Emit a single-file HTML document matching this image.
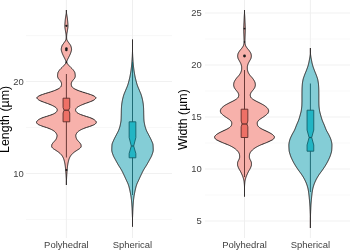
<!DOCTYPE html>
<html><head><meta charset="utf-8"><title>Violin plots</title>
<style>html,body{margin:0;padding:0;background:#fff}svg{display:block;will-change:transform;opacity:0.999}</style></head>
<body>
<svg width="350" height="250" viewBox="0 0 350 250">
<rect width="350" height="250" fill="#fff"/>
<line x1="26" x2="172" y1="35.6" y2="35.6" stroke="#f1f1f1" stroke-width="0.5"/>
<line x1="26" x2="172" y1="127.5" y2="127.5" stroke="#f1f1f1" stroke-width="0.5"/>
<line x1="26" x2="172" y1="219.5" y2="219.5" stroke="#f1f1f1" stroke-width="0.5"/>
<line x1="26" x2="172" y1="81.5" y2="81.5" stroke="#ededed" stroke-width="0.8"/>
<line x1="26" x2="172" y1="173.5" y2="173.5" stroke="#ededed" stroke-width="0.8"/>
<line x1="66.4" x2="66.4" y1="0" y2="238" stroke="#ededed" stroke-width="0.9"/>
<line x1="132.5" x2="132.5" y1="0" y2="238" stroke="#ededed" stroke-width="0.9"/>
<line x1="205" x2="350" y1="39" y2="39" stroke="#f1f1f1" stroke-width="0.5"/>
<line x1="205" x2="350" y1="91" y2="91" stroke="#f1f1f1" stroke-width="0.5"/>
<line x1="205" x2="350" y1="143" y2="143" stroke="#f1f1f1" stroke-width="0.5"/>
<line x1="205" x2="350" y1="195" y2="195" stroke="#f1f1f1" stroke-width="0.5"/>
<line x1="205" x2="350" y1="13" y2="13" stroke="#ededed" stroke-width="0.8"/>
<line x1="205" x2="350" y1="65" y2="65" stroke="#ededed" stroke-width="0.8"/>
<line x1="205" x2="350" y1="117" y2="117" stroke="#ededed" stroke-width="0.8"/>
<line x1="205" x2="350" y1="169" y2="169" stroke="#ededed" stroke-width="0.8"/>
<line x1="205" x2="350" y1="221" y2="221" stroke="#ededed" stroke-width="0.8"/>
<line x1="244.5" x2="244.5" y1="0" y2="238" stroke="#ededed" stroke-width="0.9"/>
<line x1="310.4" x2="310.4" y1="0" y2="238" stroke="#ededed" stroke-width="0.9"/>
<path d="M66.40,10.00 L66.40,10.50 L66.40,11.00 L66.40,11.50 L66.40,12.00 L66.40,12.50 L66.48,13.00 L66.57,13.50 L66.65,14.00 L66.73,14.50 L66.82,15.00 L66.90,15.50 L66.99,16.00 L67.07,16.50 L67.15,17.00 L67.23,17.50 L67.31,18.00 L67.38,18.50 L67.44,19.00 L67.50,19.50 L67.55,20.00 L67.60,20.50 L67.64,21.00 L67.69,21.50 L67.74,22.00 L67.78,22.50 L67.82,23.00 L67.86,23.50 L67.89,24.00 L67.91,24.50 L67.93,25.00 L67.95,25.50 L67.95,26.00 L67.94,26.50 L67.91,27.00 L67.87,27.50 L67.81,28.00 L67.74,28.50 L67.66,29.00 L67.58,29.50 L67.50,30.00 L67.42,30.50 L67.35,31.00 L67.27,31.50 L67.18,32.00 L67.08,32.50 L66.98,33.00 L66.88,33.50 L66.81,34.00 L66.75,34.50 L66.71,35.00 L66.67,35.50 L66.63,36.00 L66.61,36.50 L66.60,37.00 L66.61,37.50 L66.63,38.00 L66.66,38.50 L66.70,39.00 L66.81,39.50 L67.02,40.00 L67.28,40.50 L67.55,41.00 L67.85,41.50 L68.22,42.00 L68.59,42.50 L68.95,43.00 L69.30,43.50 L69.67,44.00 L70.03,44.50 L70.37,45.00 L70.65,45.50 L70.85,46.00 L71.01,46.50 L71.15,47.00 L71.29,47.50 L71.40,48.00 L71.48,48.50 L71.54,49.00 L71.55,49.50 L71.51,50.00 L71.42,50.50 L71.30,51.00 L71.15,51.50 L70.99,52.00 L70.82,52.50 L70.65,53.00 L70.48,53.50 L70.28,54.00 L70.06,54.50 L69.83,55.00 L69.59,55.50 L69.34,56.00 L69.09,56.50 L68.85,57.00 L68.60,57.50 L68.34,58.00 L68.08,58.50 L67.82,59.00 L67.57,59.50 L67.35,60.00 L67.12,60.50 L66.88,61.00 L66.68,61.50 L66.56,62.00 L66.60,62.50 L66.87,63.00 L67.26,63.50 L67.65,64.00 L68.03,64.50 L68.46,65.00 L68.92,65.50 L69.39,66.00 L69.88,66.50 L70.35,67.00 L70.84,67.50 L71.36,68.00 L71.88,68.50 L72.39,69.00 L72.85,69.50 L73.25,70.00 L73.61,70.50 L73.97,71.00 L74.30,71.50 L74.59,72.00 L74.81,72.50 L74.95,73.00 L75.03,73.50 L75.10,74.00 L75.16,74.50 L75.21,75.00 L75.24,75.50 L75.25,76.00 L75.21,76.50 L75.10,77.00 L74.94,77.50 L74.75,78.00 L74.46,78.50 L74.04,79.00 L73.57,79.50 L73.15,80.00 L72.76,80.50 L72.36,81.00 L72.00,81.50 L71.75,82.00 L71.57,82.50 L71.41,83.00 L71.29,83.50 L71.25,84.00 L71.27,84.50 L71.34,85.00 L71.43,85.50 L71.55,86.00 L71.78,86.50 L72.17,87.00 L72.68,87.50 L73.25,88.00 L73.95,88.50 L74.84,89.00 L75.86,89.50 L76.95,90.00 L78.15,90.50 L79.51,91.00 L80.96,91.50 L82.45,92.00 L84.04,92.50 L85.74,93.00 L87.42,93.50 L88.95,94.00 L90.38,94.50 L91.77,95.00 L93.00,95.50 L93.95,96.00 L94.73,96.50 L95.42,97.00 L95.87,97.50 L95.92,98.00 L95.67,98.50 L95.20,99.00 L94.60,99.50 L93.95,100.00 L93.11,100.50 L91.99,101.00 L90.73,101.50 L89.45,102.00 L88.13,102.50 L86.70,103.00 L85.27,103.50 L83.95,104.00 L82.72,104.50 L81.53,105.00 L80.43,105.50 L79.45,106.00 L78.54,106.50 L77.67,107.00 L76.94,107.50 L76.45,108.00 L76.11,108.50 L75.83,109.00 L75.63,109.50 L75.55,110.00 L75.63,110.50 L75.83,111.00 L76.11,111.50 L76.45,112.00 L76.93,112.50 L77.64,113.00 L78.50,113.50 L79.45,114.00 L80.59,114.50 L81.97,115.00 L83.47,115.50 L84.95,116.00 L86.48,116.50 L88.10,117.00 L89.64,117.50 L90.95,118.00 L92.07,118.50 L93.10,119.00 L93.98,119.50 L94.65,120.00 L95.20,120.50 L95.71,121.00 L96.11,121.50 L96.33,122.00 L96.31,122.50 L96.08,123.00 L95.70,123.50 L95.25,124.00 L94.55,124.50 L93.49,125.00 L92.24,125.50 L90.95,126.00 L89.55,126.50 L87.97,127.00 L86.38,127.50 L84.95,128.00 L83.69,128.50 L82.49,129.00 L81.40,129.50 L80.45,130.00 L79.61,130.50 L78.85,131.00 L78.19,131.50 L77.65,132.00 L77.21,132.50 L76.83,133.00 L76.51,133.50 L76.25,134.00 L76.02,134.50 L75.83,135.00 L75.75,135.50 L75.78,136.00 L75.86,136.50 L75.95,137.00 L76.07,137.50 L76.23,138.00 L76.42,138.50 L76.65,139.00 L76.94,139.50 L77.31,140.00 L77.73,140.50 L78.15,141.00 L78.60,141.50 L79.08,142.00 L79.55,142.50 L79.95,143.00 L80.30,143.50 L80.64,144.00 L80.91,144.50 L81.05,145.00 L81.10,145.50 L81.14,146.00 L81.15,146.50 L81.01,147.00 L80.67,147.50 L80.25,148.00 L79.72,148.50 L79.01,149.00 L78.22,149.50 L77.45,150.00 L76.70,150.50 L75.91,151.00 L75.15,151.50 L74.45,152.00 L73.81,152.50 L73.21,153.00 L72.65,153.50 L72.15,154.00 L71.70,154.50 L71.28,155.00 L70.89,155.50 L70.55,156.00 L70.23,156.50 L69.94,157.00 L69.68,157.50 L69.45,158.00 L69.25,158.50 L69.06,159.00 L68.90,159.50 L68.75,160.00 L68.61,160.50 L68.49,161.00 L68.37,161.50 L68.25,162.00 L68.15,162.50 L68.05,163.00 L67.95,163.50 L67.86,164.00 L67.77,164.50 L67.69,165.00 L67.62,165.50 L67.55,166.00 L67.49,166.50 L67.43,167.00 L67.38,167.50 L67.33,168.00 L67.28,168.50 L67.24,169.00 L67.19,169.50 L67.15,170.00 L67.11,170.50 L67.06,171.00 L67.02,171.50 L66.98,172.00 L66.94,172.50 L66.90,173.00 L66.86,173.50 L66.82,174.00 L66.78,174.50 L66.75,175.00 L66.72,175.50 L66.69,176.00 L66.66,176.50 L66.63,177.00 L66.60,177.50 L66.58,178.00 L66.55,178.50 L66.52,179.00 L66.49,179.50 L66.45,180.00 L66.41,180.50 L66.40,181.00 L66.40,181.50 L66.40,182.00 L66.40,182.50 L66.40,183.00 L66.40,183.50 L66.40,184.00 L66.40,184.50 L66.40,185.00 L66.40,185.00 L66.40,184.50 L66.40,184.00 L66.40,183.50 L66.40,183.00 L66.40,182.50 L66.40,182.00 L66.40,181.50 L66.40,181.00 L66.39,180.50 L66.35,180.00 L66.31,179.50 L66.28,179.00 L66.25,178.50 L66.22,178.00 L66.20,177.50 L66.17,177.00 L66.14,176.50 L66.11,176.00 L66.08,175.50 L66.05,175.00 L66.02,174.50 L65.98,174.00 L65.94,173.50 L65.90,173.00 L65.86,172.50 L65.82,172.00 L65.78,171.50 L65.74,171.00 L65.69,170.50 L65.65,170.00 L65.61,169.50 L65.56,169.00 L65.52,168.50 L65.47,168.00 L65.42,167.50 L65.37,167.00 L65.31,166.50 L65.25,166.00 L65.18,165.50 L65.11,165.00 L65.03,164.50 L64.94,164.00 L64.85,163.50 L64.75,163.00 L64.65,162.50 L64.55,162.00 L64.43,161.50 L64.31,161.00 L64.19,160.50 L64.05,160.00 L63.90,159.50 L63.74,159.00 L63.55,158.50 L63.35,158.00 L63.12,157.50 L62.86,157.00 L62.57,156.50 L62.25,156.00 L61.91,155.50 L61.52,155.00 L61.10,154.50 L60.65,154.00 L60.15,153.50 L59.59,153.00 L58.99,152.50 L58.35,152.00 L57.65,151.50 L56.89,151.00 L56.10,150.50 L55.35,150.00 L54.58,149.50 L53.79,149.00 L53.08,148.50 L52.55,148.00 L52.13,147.50 L51.79,147.00 L51.65,146.50 L51.66,146.00 L51.70,145.50 L51.75,145.00 L51.89,144.50 L52.16,144.00 L52.50,143.50 L52.85,143.00 L53.25,142.50 L53.72,142.00 L54.20,141.50 L54.65,141.00 L55.07,140.50 L55.49,140.00 L55.86,139.50 L56.15,139.00 L56.38,138.50 L56.57,138.00 L56.73,137.50 L56.85,137.00 L56.94,136.50 L57.02,136.00 L57.05,135.50 L56.97,135.00 L56.78,134.50 L56.55,134.00 L56.29,133.50 L55.97,133.00 L55.59,132.50 L55.15,132.00 L54.61,131.50 L53.95,131.00 L53.19,130.50 L52.35,130.00 L51.40,129.50 L50.31,129.00 L49.11,128.50 L47.85,128.00 L46.42,127.50 L44.83,127.00 L43.25,126.50 L41.85,126.00 L40.56,125.50 L39.31,125.00 L38.25,124.50 L37.55,124.00 L37.10,123.50 L36.72,123.00 L36.49,122.50 L36.47,122.00 L36.69,121.50 L37.09,121.00 L37.60,120.50 L38.15,120.00 L38.82,119.50 L39.70,119.00 L40.73,118.50 L41.85,118.00 L43.16,117.50 L44.70,117.00 L46.32,116.50 L47.85,116.00 L49.33,115.50 L50.83,115.00 L52.21,114.50 L53.35,114.00 L54.30,113.50 L55.16,113.00 L55.87,112.50 L56.35,112.00 L56.69,111.50 L56.97,111.00 L57.17,110.50 L57.25,110.00 L57.17,109.50 L56.97,109.00 L56.69,108.50 L56.35,108.00 L55.86,107.50 L55.13,107.00 L54.26,106.50 L53.35,106.00 L52.37,105.50 L51.27,105.00 L50.08,104.50 L48.85,104.00 L47.53,103.50 L46.10,103.00 L44.67,102.50 L43.35,102.00 L42.07,101.50 L40.81,101.00 L39.69,100.50 L38.85,100.00 L38.20,99.50 L37.60,99.00 L37.13,98.50 L36.88,98.00 L36.93,97.50 L37.38,97.00 L38.07,96.50 L38.85,96.00 L39.80,95.50 L41.03,95.00 L42.42,94.50 L43.85,94.00 L45.38,93.50 L47.06,93.00 L48.76,92.50 L50.35,92.00 L51.84,91.50 L53.29,91.00 L54.65,90.50 L55.85,90.00 L56.94,89.50 L57.96,89.00 L58.85,88.50 L59.55,88.00 L60.12,87.50 L60.63,87.00 L61.02,86.50 L61.25,86.00 L61.37,85.50 L61.46,85.00 L61.53,84.50 L61.55,84.00 L61.51,83.50 L61.39,83.00 L61.23,82.50 L61.05,82.00 L60.80,81.50 L60.44,81.00 L60.04,80.50 L59.65,80.00 L59.23,79.50 L58.76,79.00 L58.34,78.50 L58.05,78.00 L57.86,77.50 L57.70,77.00 L57.59,76.50 L57.55,76.00 L57.56,75.50 L57.59,75.00 L57.64,74.50 L57.70,74.00 L57.77,73.50 L57.85,73.00 L57.99,72.50 L58.21,72.00 L58.50,71.50 L58.83,71.00 L59.19,70.50 L59.55,70.00 L59.95,69.50 L60.41,69.00 L60.92,68.50 L61.44,68.00 L61.96,67.50 L62.45,67.00 L62.92,66.50 L63.41,66.00 L63.88,65.50 L64.34,65.00 L64.77,64.50 L65.15,64.00 L65.54,63.50 L65.93,63.00 L66.20,62.50 L66.24,62.00 L66.12,61.50 L65.92,61.00 L65.68,60.50 L65.45,60.00 L65.23,59.50 L64.98,59.00 L64.72,58.50 L64.46,58.00 L64.20,57.50 L63.95,57.00 L63.71,56.50 L63.46,56.00 L63.21,55.50 L62.97,55.00 L62.74,54.50 L62.52,54.00 L62.32,53.50 L62.15,53.00 L61.98,52.50 L61.81,52.00 L61.65,51.50 L61.50,51.00 L61.38,50.50 L61.29,50.00 L61.25,49.50 L61.26,49.00 L61.32,48.50 L61.40,48.00 L61.51,47.50 L61.65,47.00 L61.79,46.50 L61.95,46.00 L62.15,45.50 L62.43,45.00 L62.77,44.50 L63.13,44.00 L63.50,43.50 L63.85,43.00 L64.21,42.50 L64.58,42.00 L64.95,41.50 L65.25,41.00 L65.52,40.50 L65.78,40.00 L65.99,39.50 L66.10,39.00 L66.14,38.50 L66.17,38.00 L66.19,37.50 L66.20,37.00 L66.19,36.50 L66.17,36.00 L66.13,35.50 L66.09,35.00 L66.05,34.50 L65.99,34.00 L65.92,33.50 L65.82,33.00 L65.72,32.50 L65.62,32.00 L65.53,31.50 L65.45,31.00 L65.38,30.50 L65.30,30.00 L65.22,29.50 L65.14,29.00 L65.06,28.50 L64.99,28.00 L64.93,27.50 L64.89,27.00 L64.86,26.50 L64.85,26.00 L64.85,25.50 L64.87,25.00 L64.89,24.50 L64.91,24.00 L64.94,23.50 L64.98,23.00 L65.02,22.50 L65.06,22.00 L65.11,21.50 L65.16,21.00 L65.20,20.50 L65.25,20.00 L65.30,19.50 L65.36,19.00 L65.42,18.50 L65.49,18.00 L65.57,17.50 L65.65,17.00 L65.73,16.50 L65.81,16.00 L65.90,15.50 L65.98,15.00 L66.07,14.50 L66.15,14.00 L66.23,13.50 L66.32,13.00 L66.40,12.50 L66.40,12.00 L66.40,11.50 L66.40,11.00 L66.40,10.50 L66.40,10.00Z" fill="#F7B1AB" stroke="#262222" stroke-width="1" stroke-linejoin="round"/>
<line x1="66.4" x2="66.4" y1="74" y2="157.5" stroke="#5a2c29" stroke-width="0.9"/>
<path d="M63.05,98.20 L69.75,98.20 L69.75,107.50 L68.70,110.20 L69.75,113.00 L69.75,121.80 L63.05,121.80 L63.05,113.00 L64.10,110.20 L63.05,107.50Z" fill="#EE7066" stroke="#5a2c29" stroke-width="0.9" stroke-linejoin="round"/>
<path d="M64.10,110.20 L68.70,110.20" stroke="#5a2c29" stroke-width="1.2"/>
<circle cx="66.4" cy="25.8" r="1.15" fill="#1a1a1a"/>
<circle cx="66.4" cy="48.5" r="1.25" fill="#1a1a1a"/>
<circle cx="66.4" cy="50.1" r="1.25" fill="#1a1a1a"/>
<circle cx="66.4" cy="62.2" r="1.0" fill="#1a1a1a"/>
<circle cx="66.4" cy="170" r="1.1" fill="#1a1a1a"/>
<path d="M132.50,39.60 L132.50,40.10 L132.50,40.60 L132.50,41.10 L132.50,41.60 L132.50,42.10 L132.50,42.60 L132.50,43.10 L132.50,43.60 L132.50,44.10 L132.50,44.60 L132.50,45.10 L132.50,45.60 L132.50,46.10 L132.50,46.60 L132.50,47.10 L132.50,47.60 L132.50,48.10 L132.50,48.60 L132.50,49.10 L132.50,49.60 L132.50,50.10 L132.50,50.60 L132.50,51.10 L132.51,51.60 L132.53,52.10 L132.55,52.60 L132.57,53.10 L132.59,53.60 L132.61,54.10 L132.63,54.60 L132.65,55.10 L132.68,55.60 L132.71,56.10 L132.73,56.60 L132.76,57.10 L132.79,57.60 L132.82,58.10 L132.86,58.60 L132.89,59.10 L132.92,59.60 L132.96,60.10 L132.99,60.60 L133.03,61.10 L133.06,61.60 L133.10,62.10 L133.14,62.60 L133.18,63.10 L133.22,63.60 L133.27,64.10 L133.31,64.60 L133.36,65.10 L133.41,65.60 L133.46,66.10 L133.52,66.60 L133.58,67.10 L133.64,67.60 L133.70,68.10 L133.76,68.60 L133.83,69.10 L133.90,69.60 L133.96,70.10 L134.03,70.60 L134.11,71.10 L134.18,71.60 L134.26,72.10 L134.34,72.60 L134.42,73.10 L134.50,73.60 L134.59,74.10 L134.68,74.60 L134.77,75.10 L134.86,75.60 L134.96,76.10 L135.07,76.60 L135.17,77.10 L135.28,77.60 L135.40,78.10 L135.51,78.60 L135.63,79.10 L135.75,79.60 L135.87,80.10 L136.00,80.60 L136.13,81.10 L136.26,81.60 L136.39,82.10 L136.53,82.60 L136.67,83.10 L136.81,83.60 L136.96,84.10 L137.12,84.60 L137.28,85.10 L137.46,85.60 L137.64,86.10 L137.84,86.60 L138.04,87.10 L138.25,87.60 L138.46,88.10 L138.67,88.60 L138.88,89.10 L139.09,89.60 L139.29,90.10 L139.50,90.60 L139.71,91.10 L139.92,91.60 L140.13,92.10 L140.35,92.60 L140.55,93.10 L140.75,93.60 L140.94,94.10 L141.12,94.60 L141.28,95.10 L141.44,95.60 L141.58,96.10 L141.73,96.60 L141.87,97.10 L142.00,97.60 L142.13,98.10 L142.25,98.60 L142.36,99.10 L142.47,99.60 L142.57,100.10 L142.67,100.60 L142.77,101.10 L142.86,101.60 L142.95,102.10 L143.04,102.60 L143.12,103.10 L143.19,103.60 L143.26,104.10 L143.31,104.60 L143.36,105.10 L143.40,105.60 L143.44,106.10 L143.48,106.60 L143.51,107.10 L143.54,107.60 L143.57,108.10 L143.60,108.60 L143.62,109.10 L143.64,109.60 L143.65,110.10 L143.67,110.60 L143.68,111.10 L143.69,111.60 L143.70,112.10 L143.70,112.60 L143.71,113.10 L143.72,113.60 L143.73,114.10 L143.74,114.60 L143.75,115.10 L143.77,115.60 L143.78,116.10 L143.80,116.60 L143.81,117.10 L143.83,117.60 L143.85,118.10 L143.87,118.60 L143.90,119.10 L143.93,119.60 L143.96,120.10 L144.00,120.60 L144.05,121.10 L144.12,121.60 L144.19,122.10 L144.28,122.60 L144.37,123.10 L144.46,123.60 L144.56,124.10 L144.67,124.60 L144.77,125.10 L144.88,125.60 L145.00,126.10 L145.14,126.60 L145.28,127.10 L145.43,127.60 L145.58,128.10 L145.75,128.60 L145.92,129.10 L146.10,129.60 L146.29,130.10 L146.49,130.60 L146.72,131.10 L146.96,131.60 L147.21,132.10 L147.48,132.60 L147.74,133.10 L148.01,133.60 L148.28,134.10 L148.55,134.60 L148.80,135.10 L149.06,135.60 L149.32,136.10 L149.58,136.60 L149.84,137.10 L150.10,137.60 L150.36,138.10 L150.61,138.60 L150.85,139.10 L151.08,139.60 L151.29,140.10 L151.51,140.60 L151.74,141.10 L151.97,141.60 L152.19,142.10 L152.41,142.60 L152.60,143.10 L152.77,143.60 L152.91,144.10 L153.01,144.60 L153.06,145.10 L153.09,145.60 L153.12,146.10 L153.15,146.60 L153.18,147.10 L153.20,147.60 L153.22,148.10 L153.23,148.60 L153.24,149.10 L153.25,149.60 L153.25,150.10 L153.22,150.60 L153.15,151.10 L153.05,151.60 L152.93,152.10 L152.78,152.60 L152.62,153.10 L152.45,153.60 L152.27,154.10 L152.09,154.60 L151.92,155.10 L151.73,155.60 L151.51,156.10 L151.28,156.60 L151.03,157.10 L150.76,157.60 L150.49,158.10 L150.22,158.60 L149.94,159.10 L149.66,159.60 L149.40,160.10 L149.13,160.60 L148.86,161.10 L148.59,161.60 L148.31,162.10 L148.03,162.60 L147.75,163.10 L147.46,163.60 L147.18,164.10 L146.88,164.60 L146.59,165.10 L146.29,165.60 L145.98,166.10 L145.66,166.60 L145.34,167.10 L145.01,167.60 L144.69,168.10 L144.38,168.60 L144.07,169.10 L143.78,169.60 L143.49,170.10 L143.22,170.60 L142.96,171.10 L142.70,171.60 L142.45,172.10 L142.20,172.60 L141.96,173.10 L141.72,173.60 L141.48,174.10 L141.24,174.60 L141.00,175.10 L140.76,175.60 L140.53,176.10 L140.30,176.60 L140.07,177.10 L139.84,177.60 L139.61,178.10 L139.38,178.60 L139.16,179.10 L138.93,179.60 L138.70,180.10 L138.47,180.60 L138.24,181.10 L138.00,181.60 L137.76,182.10 L137.53,182.60 L137.30,183.10 L137.08,183.60 L136.88,184.10 L136.69,184.60 L136.52,185.10 L136.36,185.60 L136.21,186.10 L136.07,186.60 L135.94,187.10 L135.81,187.60 L135.69,188.10 L135.57,188.60 L135.45,189.10 L135.34,189.60 L135.23,190.10 L135.12,190.60 L135.01,191.10 L134.90,191.60 L134.79,192.10 L134.69,192.60 L134.59,193.10 L134.50,193.60 L134.41,194.10 L134.32,194.60 L134.23,195.10 L134.15,195.60 L134.07,196.10 L133.99,196.60 L133.92,197.10 L133.85,197.60 L133.78,198.10 L133.71,198.60 L133.65,199.10 L133.59,199.60 L133.54,200.10 L133.49,200.60 L133.45,201.10 L133.40,201.60 L133.36,202.10 L133.32,202.60 L133.28,203.10 L133.25,203.60 L133.21,204.10 L133.18,204.60 L133.14,205.10 L133.11,205.60 L133.08,206.10 L133.04,206.60 L133.01,207.10 L132.98,207.60 L132.95,208.10 L132.92,208.60 L132.90,209.10 L132.87,209.60 L132.85,210.10 L132.82,210.60 L132.80,211.10 L132.78,211.60 L132.76,212.10 L132.74,212.60 L132.73,213.10 L132.71,213.60 L132.69,214.10 L132.67,214.60 L132.65,215.10 L132.62,215.60 L132.60,216.10 L132.58,216.60 L132.56,217.10 L132.53,217.60 L132.51,218.10 L132.50,218.60 L132.50,219.10 L132.50,219.60 L132.50,220.10 L132.50,220.60 L132.50,221.10 L132.50,221.60 L132.50,222.10 L132.50,222.60 L132.50,223.10 L132.50,223.60 L132.50,224.10 L132.50,224.60 L132.50,225.10 L132.50,225.60 L132.50,226.10 L132.50,226.60 L132.50,226.60 L132.50,226.10 L132.50,225.60 L132.50,225.10 L132.50,224.60 L132.50,224.10 L132.50,223.60 L132.50,223.10 L132.50,222.60 L132.50,222.10 L132.50,221.60 L132.50,221.10 L132.50,220.60 L132.50,220.10 L132.50,219.60 L132.50,219.10 L132.50,218.60 L132.49,218.10 L132.47,217.60 L132.44,217.10 L132.42,216.60 L132.40,216.10 L132.38,215.60 L132.35,215.10 L132.33,214.60 L132.31,214.10 L132.29,213.60 L132.27,213.10 L132.26,212.60 L132.24,212.10 L132.22,211.60 L132.20,211.10 L132.18,210.60 L132.15,210.10 L132.13,209.60 L132.10,209.10 L132.08,208.60 L132.05,208.10 L132.02,207.60 L131.99,207.10 L131.96,206.60 L131.92,206.10 L131.89,205.60 L131.86,205.10 L131.82,204.60 L131.79,204.10 L131.75,203.60 L131.72,203.10 L131.68,202.60 L131.64,202.10 L131.60,201.60 L131.55,201.10 L131.51,200.60 L131.46,200.10 L131.41,199.60 L131.35,199.10 L131.29,198.60 L131.22,198.10 L131.15,197.60 L131.08,197.10 L131.01,196.60 L130.93,196.10 L130.85,195.60 L130.77,195.10 L130.68,194.60 L130.59,194.10 L130.50,193.60 L130.41,193.10 L130.31,192.60 L130.21,192.10 L130.10,191.60 L129.99,191.10 L129.88,190.60 L129.77,190.10 L129.66,189.60 L129.55,189.10 L129.43,188.60 L129.31,188.10 L129.19,187.60 L129.06,187.10 L128.93,186.60 L128.79,186.10 L128.64,185.60 L128.48,185.10 L128.31,184.60 L128.12,184.10 L127.92,183.60 L127.70,183.10 L127.47,182.60 L127.24,182.10 L127.00,181.60 L126.76,181.10 L126.53,180.60 L126.30,180.10 L126.07,179.60 L125.84,179.10 L125.62,178.60 L125.39,178.10 L125.16,177.60 L124.93,177.10 L124.70,176.60 L124.47,176.10 L124.24,175.60 L124.00,175.10 L123.76,174.60 L123.52,174.10 L123.28,173.60 L123.04,173.10 L122.80,172.60 L122.55,172.10 L122.30,171.60 L122.04,171.10 L121.78,170.60 L121.51,170.10 L121.22,169.60 L120.93,169.10 L120.62,168.60 L120.31,168.10 L119.99,167.60 L119.66,167.10 L119.34,166.60 L119.02,166.10 L118.71,165.60 L118.41,165.10 L118.12,164.60 L117.82,164.10 L117.54,163.60 L117.25,163.10 L116.97,162.60 L116.69,162.10 L116.41,161.60 L116.14,161.10 L115.87,160.60 L115.60,160.10 L115.34,159.60 L115.06,159.10 L114.78,158.60 L114.51,158.10 L114.24,157.60 L113.97,157.10 L113.72,156.60 L113.49,156.10 L113.27,155.60 L113.08,155.10 L112.91,154.60 L112.73,154.10 L112.55,153.60 L112.38,153.10 L112.22,152.60 L112.07,152.10 L111.95,151.60 L111.85,151.10 L111.78,150.60 L111.75,150.10 L111.75,149.60 L111.76,149.10 L111.77,148.60 L111.78,148.10 L111.80,147.60 L111.82,147.10 L111.85,146.60 L111.88,146.10 L111.91,145.60 L111.94,145.10 L111.99,144.60 L112.09,144.10 L112.23,143.60 L112.40,143.10 L112.59,142.60 L112.81,142.10 L113.03,141.60 L113.26,141.10 L113.49,140.60 L113.71,140.10 L113.92,139.60 L114.15,139.10 L114.39,138.60 L114.64,138.10 L114.90,137.60 L115.16,137.10 L115.42,136.60 L115.68,136.10 L115.94,135.60 L116.20,135.10 L116.45,134.60 L116.72,134.10 L116.99,133.60 L117.26,133.10 L117.52,132.60 L117.79,132.10 L118.04,131.60 L118.28,131.10 L118.51,130.60 L118.71,130.10 L118.90,129.60 L119.08,129.10 L119.25,128.60 L119.42,128.10 L119.57,127.60 L119.72,127.10 L119.86,126.60 L120.00,126.10 L120.12,125.60 L120.23,125.10 L120.33,124.60 L120.44,124.10 L120.54,123.60 L120.63,123.10 L120.72,122.60 L120.81,122.10 L120.88,121.60 L120.95,121.10 L121.00,120.60 L121.04,120.10 L121.07,119.60 L121.10,119.10 L121.13,118.60 L121.15,118.10 L121.17,117.60 L121.19,117.10 L121.20,116.60 L121.22,116.10 L121.23,115.60 L121.25,115.10 L121.26,114.60 L121.27,114.10 L121.28,113.60 L121.29,113.10 L121.30,112.60 L121.30,112.10 L121.31,111.60 L121.32,111.10 L121.33,110.60 L121.35,110.10 L121.36,109.60 L121.38,109.10 L121.40,108.60 L121.43,108.10 L121.46,107.60 L121.49,107.10 L121.52,106.60 L121.56,106.10 L121.60,105.60 L121.64,105.10 L121.69,104.60 L121.74,104.10 L121.81,103.60 L121.88,103.10 L121.96,102.60 L122.05,102.10 L122.14,101.60 L122.23,101.10 L122.33,100.60 L122.43,100.10 L122.53,99.60 L122.64,99.10 L122.75,98.60 L122.87,98.10 L123.00,97.60 L123.13,97.10 L123.27,96.60 L123.42,96.10 L123.56,95.60 L123.72,95.10 L123.88,94.60 L124.06,94.10 L124.25,93.60 L124.45,93.10 L124.65,92.60 L124.87,92.10 L125.08,91.60 L125.29,91.10 L125.50,90.60 L125.71,90.10 L125.91,89.60 L126.12,89.10 L126.33,88.60 L126.54,88.10 L126.75,87.60 L126.96,87.10 L127.16,86.60 L127.36,86.10 L127.54,85.60 L127.72,85.10 L127.88,84.60 L128.04,84.10 L128.19,83.60 L128.33,83.10 L128.47,82.60 L128.61,82.10 L128.74,81.60 L128.87,81.10 L129.00,80.60 L129.13,80.10 L129.25,79.60 L129.37,79.10 L129.49,78.60 L129.60,78.10 L129.72,77.60 L129.83,77.10 L129.93,76.60 L130.04,76.10 L130.14,75.60 L130.23,75.10 L130.32,74.60 L130.41,74.10 L130.50,73.60 L130.58,73.10 L130.66,72.60 L130.74,72.10 L130.82,71.60 L130.89,71.10 L130.97,70.60 L131.04,70.10 L131.10,69.60 L131.17,69.10 L131.24,68.60 L131.30,68.10 L131.36,67.60 L131.42,67.10 L131.48,66.60 L131.54,66.10 L131.59,65.60 L131.64,65.10 L131.69,64.60 L131.73,64.10 L131.78,63.60 L131.82,63.10 L131.86,62.60 L131.90,62.10 L131.94,61.60 L131.97,61.10 L132.01,60.60 L132.04,60.10 L132.08,59.60 L132.11,59.10 L132.14,58.60 L132.18,58.10 L132.21,57.60 L132.24,57.10 L132.27,56.60 L132.29,56.10 L132.32,55.60 L132.35,55.10 L132.37,54.60 L132.39,54.10 L132.41,53.60 L132.43,53.10 L132.45,52.60 L132.47,52.10 L132.49,51.60 L132.50,51.10 L132.50,50.60 L132.50,50.10 L132.50,49.60 L132.50,49.10 L132.50,48.60 L132.50,48.10 L132.50,47.60 L132.50,47.10 L132.50,46.60 L132.50,46.10 L132.50,45.60 L132.50,45.10 L132.50,44.60 L132.50,44.10 L132.50,43.60 L132.50,43.10 L132.50,42.60 L132.50,42.10 L132.50,41.60 L132.50,41.10 L132.50,40.60 L132.50,40.10 L132.50,39.60Z" fill="#84CDD6" stroke="#262222" stroke-width="1" stroke-linejoin="round"/>
<line x1="132.5" x2="132.5" y1="62" y2="195" stroke="#14606a" stroke-width="0.9"/>
<path d="M129.15,121.80 L135.85,121.80 L135.85,137.50 L133.70,146.00 L135.85,153.50 L135.85,157.80 L129.15,157.80 L129.15,153.50 L131.30,146.00 L129.15,137.50Z" fill="#22B5C4" stroke="#14606a" stroke-width="0.9" stroke-linejoin="round"/>
<path d="M131.30,146.00 L133.70,146.00" stroke="#14606a" stroke-width="1.2"/>
<path d="M244.50,10.00 L244.50,10.50 L244.50,11.00 L244.50,11.50 L244.50,12.00 L244.50,12.50 L244.50,13.00 L244.52,13.50 L244.57,14.00 L244.61,14.50 L244.65,15.00 L244.68,15.50 L244.71,16.00 L244.74,16.50 L244.76,17.00 L244.79,17.50 L244.81,18.00 L244.83,18.50 L244.85,19.00 L244.88,19.50 L244.90,20.00 L244.93,20.50 L244.95,21.00 L244.98,21.50 L245.00,22.00 L245.03,22.50 L245.06,23.00 L245.08,23.50 L245.10,24.00 L245.13,24.50 L245.15,25.00 L245.17,25.50 L245.20,26.00 L245.22,26.50 L245.25,27.00 L245.27,27.50 L245.28,28.00 L245.30,28.50 L245.30,29.00 L245.30,29.50 L245.29,30.00 L245.28,30.50 L245.27,31.00 L245.25,31.50 L245.23,32.00 L245.22,32.50 L245.20,33.00 L245.18,33.50 L245.16,34.00 L245.14,34.50 L245.12,35.00 L245.10,35.50 L245.08,36.00 L245.06,36.50 L245.04,37.00 L245.02,37.50 L245.00,38.00 L244.98,38.50 L244.97,39.00 L244.95,39.50 L244.93,40.00 L244.92,40.50 L244.91,41.00 L244.90,41.50 L244.90,42.00 L244.92,42.50 L244.98,43.00 L245.05,43.50 L245.13,44.00 L245.25,44.50 L245.39,45.00 L245.55,45.50 L245.76,46.00 L246.04,46.50 L246.36,47.00 L246.70,47.50 L247.05,48.00 L247.42,48.50 L247.83,49.00 L248.27,49.50 L248.70,50.00 L249.10,50.50 L249.45,51.00 L249.78,51.50 L250.10,52.00 L250.41,52.50 L250.68,53.00 L250.90,53.50 L251.05,54.00 L251.16,54.50 L251.26,55.00 L251.32,55.50 L251.35,56.00 L251.32,56.50 L251.26,57.00 L251.16,57.50 L251.05,58.00 L250.90,58.50 L250.67,59.00 L250.40,59.50 L250.11,60.00 L249.82,60.50 L249.55,61.00 L249.29,61.50 L249.01,62.00 L248.73,62.50 L248.47,63.00 L248.24,63.50 L248.05,64.00 L247.89,64.50 L247.73,65.00 L247.58,65.50 L247.46,66.00 L247.38,66.50 L247.35,67.00 L247.35,67.50 L247.35,68.00 L247.35,68.50 L247.35,69.00 L247.38,69.50 L247.46,70.00 L247.58,70.50 L247.72,71.00 L247.88,71.50 L248.05,72.00 L248.24,72.50 L248.49,73.00 L248.77,73.50 L249.08,74.00 L249.41,74.50 L249.75,75.00 L250.13,75.50 L250.56,76.00 L251.02,76.50 L251.49,77.00 L251.94,77.50 L252.35,78.00 L252.73,78.50 L253.09,79.00 L253.45,79.50 L253.78,80.00 L254.08,80.50 L254.35,81.00 L254.60,81.50 L254.83,82.00 L255.03,82.50 L255.15,83.00 L255.23,83.50 L255.29,84.00 L255.33,84.50 L255.35,85.00 L255.31,85.50 L255.22,86.00 L255.09,86.50 L254.95,87.00 L254.76,87.50 L254.49,88.00 L254.18,88.50 L253.85,89.00 L253.49,89.50 L253.07,90.00 L252.65,90.50 L252.25,91.00 L251.86,91.50 L251.47,92.00 L251.12,92.50 L250.85,93.00 L250.64,93.50 L250.44,94.00 L250.30,94.50 L250.25,95.00 L250.28,95.50 L250.37,96.00 L250.49,96.50 L250.65,97.00 L250.93,97.50 L251.38,98.00 L251.94,98.50 L252.55,99.00 L253.24,99.50 L254.05,100.00 L254.94,100.50 L255.85,101.00 L256.81,101.50 L257.84,102.00 L258.87,102.50 L259.85,103.00 L260.80,103.50 L261.75,104.00 L262.67,104.50 L263.55,105.00 L264.35,105.50 L265.05,106.00 L265.68,106.50 L266.29,107.00 L266.86,107.50 L267.36,108.00 L267.76,108.50 L268.05,109.00 L268.27,109.50 L268.46,110.00 L268.60,110.50 L268.65,111.00 L268.60,111.50 L268.47,112.00 L268.27,112.50 L268.05,113.00 L267.72,113.50 L267.22,114.00 L266.64,114.50 L266.05,115.00 L265.44,115.50 L264.77,116.00 L264.06,116.50 L263.35,117.00 L262.60,117.50 L261.82,118.00 L261.05,118.50 L260.35,119.00 L259.68,119.50 L259.02,120.00 L258.45,120.50 L258.05,121.00 L257.76,121.50 L257.50,122.00 L257.32,122.50 L257.25,123.00 L257.26,123.50 L257.31,124.00 L257.37,124.50 L257.45,125.00 L257.63,125.50 L257.96,126.00 L258.38,126.50 L258.85,127.00 L259.42,127.50 L260.15,128.00 L260.98,128.50 L261.85,129.00 L262.81,129.50 L263.88,130.00 L264.98,130.50 L266.05,131.00 L267.09,131.50 L268.13,132.00 L269.13,132.50 L270.05,133.00 L270.91,133.50 L271.74,134.00 L272.47,134.50 L273.05,135.00 L273.54,135.50 L273.99,136.00 L274.32,136.50 L274.45,137.00 L274.38,137.50 L274.18,138.00 L273.89,138.50 L273.55,139.00 L272.99,139.50 L272.11,140.00 L271.08,140.50 L270.05,141.00 L269.02,141.50 L267.90,142.00 L266.73,142.50 L265.55,143.00 L264.31,143.50 L263.01,144.00 L261.73,144.50 L260.55,145.00 L259.46,145.50 L258.42,146.00 L257.45,146.50 L256.55,147.00 L255.71,147.50 L254.93,148.00 L254.21,148.50 L253.55,149.00 L252.95,149.50 L252.40,150.00 L251.90,150.50 L251.45,151.00 L251.03,151.50 L250.65,152.00 L250.31,152.50 L250.05,153.00 L249.85,153.50 L249.67,154.00 L249.53,154.50 L249.45,155.00 L249.41,155.50 L249.38,156.00 L249.36,156.50 L249.35,157.00 L249.40,157.50 L249.52,158.00 L249.68,158.50 L249.85,159.00 L250.06,159.50 L250.34,160.00 L250.62,160.50 L250.85,161.00 L251.05,161.50 L251.24,162.00 L251.39,162.50 L251.45,163.00 L251.45,163.50 L251.45,164.00 L251.45,164.50 L251.45,165.00 L251.39,165.50 L251.24,166.00 L251.04,166.50 L250.85,167.00 L250.66,167.50 L250.44,168.00 L250.20,168.50 L249.95,169.00 L249.67,169.50 L249.36,170.00 L249.04,170.50 L248.75,171.00 L248.48,171.50 L248.23,172.00 L247.99,172.50 L247.75,173.00 L247.52,173.50 L247.29,174.00 L247.07,174.50 L246.85,175.00 L246.64,175.50 L246.43,176.00 L246.23,176.50 L246.05,177.00 L245.88,177.50 L245.73,178.00 L245.58,178.50 L245.45,179.00 L245.32,179.50 L245.20,180.00 L245.09,180.50 L245.00,181.00 L244.92,181.50 L244.86,182.00 L244.80,182.50 L244.75,183.00 L244.71,183.50 L244.67,184.00 L244.63,184.50 L244.60,185.00 L244.57,185.50 L244.55,186.00 L244.53,186.50 L244.52,187.00 L244.51,187.50 L244.50,188.00 L244.50,188.50 L244.50,189.00 L244.50,189.50 L244.50,190.00 L244.50,190.50 L244.50,191.00 L244.50,191.50 L244.50,192.00 L244.50,192.50 L244.50,193.00 L244.50,193.50 L244.50,194.00 L244.50,194.50 L244.50,195.00 L244.50,195.50 L244.50,196.00 L244.50,196.50 L244.50,196.50 L244.50,196.00 L244.50,195.50 L244.50,195.00 L244.50,194.50 L244.50,194.00 L244.50,193.50 L244.50,193.00 L244.50,192.50 L244.50,192.00 L244.50,191.50 L244.50,191.00 L244.50,190.50 L244.50,190.00 L244.50,189.50 L244.50,189.00 L244.50,188.50 L244.50,188.00 L244.49,187.50 L244.48,187.00 L244.47,186.50 L244.45,186.00 L244.43,185.50 L244.40,185.00 L244.37,184.50 L244.33,184.00 L244.29,183.50 L244.25,183.00 L244.20,182.50 L244.14,182.00 L244.08,181.50 L244.00,181.00 L243.91,180.50 L243.80,180.00 L243.68,179.50 L243.55,179.00 L243.42,178.50 L243.27,178.00 L243.12,177.50 L242.95,177.00 L242.77,176.50 L242.57,176.00 L242.36,175.50 L242.15,175.00 L241.93,174.50 L241.71,174.00 L241.48,173.50 L241.25,173.00 L241.01,172.50 L240.77,172.00 L240.52,171.50 L240.25,171.00 L239.96,170.50 L239.64,170.00 L239.33,169.50 L239.05,169.00 L238.80,168.50 L238.56,168.00 L238.34,167.50 L238.15,167.00 L237.96,166.50 L237.76,166.00 L237.61,165.50 L237.55,165.00 L237.55,164.50 L237.55,164.00 L237.55,163.50 L237.55,163.00 L237.61,162.50 L237.76,162.00 L237.95,161.50 L238.15,161.00 L238.38,160.50 L238.66,160.00 L238.94,159.50 L239.15,159.00 L239.32,158.50 L239.48,158.00 L239.60,157.50 L239.65,157.00 L239.64,156.50 L239.62,156.00 L239.59,155.50 L239.55,155.00 L239.47,154.50 L239.33,154.00 L239.15,153.50 L238.95,153.00 L238.69,152.50 L238.35,152.00 L237.97,151.50 L237.55,151.00 L237.10,150.50 L236.60,150.00 L236.05,149.50 L235.45,149.00 L234.79,148.50 L234.07,148.00 L233.29,147.50 L232.45,147.00 L231.55,146.50 L230.58,146.00 L229.54,145.50 L228.45,145.00 L227.27,144.50 L225.99,144.00 L224.69,143.50 L223.45,143.00 L222.27,142.50 L221.10,142.00 L219.98,141.50 L218.95,141.00 L217.92,140.50 L216.89,140.00 L216.01,139.50 L215.45,139.00 L215.11,138.50 L214.82,138.00 L214.62,137.50 L214.55,137.00 L214.68,136.50 L215.01,136.00 L215.46,135.50 L215.95,135.00 L216.53,134.50 L217.26,134.00 L218.09,133.50 L218.95,133.00 L219.87,132.50 L220.87,132.00 L221.91,131.50 L222.95,131.00 L224.02,130.50 L225.12,130.00 L226.19,129.50 L227.15,129.00 L228.02,128.50 L228.85,128.00 L229.58,127.50 L230.15,127.00 L230.62,126.50 L231.04,126.00 L231.37,125.50 L231.55,125.00 L231.63,124.50 L231.69,124.00 L231.74,123.50 L231.75,123.00 L231.68,122.50 L231.50,122.00 L231.24,121.50 L230.95,121.00 L230.55,120.50 L229.98,120.00 L229.32,119.50 L228.65,119.00 L227.95,118.50 L227.18,118.00 L226.40,117.50 L225.65,117.00 L224.94,116.50 L224.23,116.00 L223.56,115.50 L222.95,115.00 L222.36,114.50 L221.78,114.00 L221.28,113.50 L220.95,113.00 L220.73,112.50 L220.53,112.00 L220.40,111.50 L220.35,111.00 L220.40,110.50 L220.54,110.00 L220.73,109.50 L220.95,109.00 L221.24,108.50 L221.64,108.00 L222.14,107.50 L222.71,107.00 L223.32,106.50 L223.95,106.00 L224.65,105.50 L225.45,105.00 L226.33,104.50 L227.25,104.00 L228.20,103.50 L229.15,103.00 L230.13,102.50 L231.16,102.00 L232.19,101.50 L233.15,101.00 L234.06,100.50 L234.95,100.00 L235.76,99.50 L236.45,99.00 L237.06,98.50 L237.62,98.00 L238.07,97.50 L238.35,97.00 L238.51,96.50 L238.63,96.00 L238.72,95.50 L238.75,95.00 L238.70,94.50 L238.56,94.00 L238.36,93.50 L238.15,93.00 L237.88,92.50 L237.53,92.00 L237.14,91.50 L236.75,91.00 L236.35,90.50 L235.93,90.00 L235.51,89.50 L235.15,89.00 L234.82,88.50 L234.51,88.00 L234.24,87.50 L234.05,87.00 L233.91,86.50 L233.78,86.00 L233.69,85.50 L233.65,85.00 L233.67,84.50 L233.71,84.00 L233.77,83.50 L233.85,83.00 L233.97,82.50 L234.17,82.00 L234.40,81.50 L234.65,81.00 L234.92,80.50 L235.22,80.00 L235.55,79.50 L235.91,79.00 L236.27,78.50 L236.65,78.00 L237.06,77.50 L237.51,77.00 L237.98,76.50 L238.44,76.00 L238.87,75.50 L239.25,75.00 L239.59,74.50 L239.92,74.00 L240.23,73.50 L240.51,73.00 L240.76,72.50 L240.95,72.00 L241.12,71.50 L241.28,71.00 L241.42,70.50 L241.54,70.00 L241.62,69.50 L241.65,69.00 L241.65,68.50 L241.65,68.00 L241.65,67.50 L241.65,67.00 L241.62,66.50 L241.54,66.00 L241.42,65.50 L241.27,65.00 L241.11,64.50 L240.95,64.00 L240.76,63.50 L240.53,63.00 L240.27,62.50 L239.99,62.00 L239.71,61.50 L239.45,61.00 L239.18,60.50 L238.89,60.00 L238.60,59.50 L238.33,59.00 L238.10,58.50 L237.95,58.00 L237.84,57.50 L237.74,57.00 L237.68,56.50 L237.65,56.00 L237.68,55.50 L237.74,55.00 L237.84,54.50 L237.95,54.00 L238.10,53.50 L238.32,53.00 L238.59,52.50 L238.90,52.00 L239.22,51.50 L239.55,51.00 L239.90,50.50 L240.30,50.00 L240.73,49.50 L241.17,49.00 L241.58,48.50 L241.95,48.00 L242.30,47.50 L242.64,47.00 L242.96,46.50 L243.24,46.00 L243.45,45.50 L243.61,45.00 L243.75,44.50 L243.87,44.00 L243.95,43.50 L244.02,43.00 L244.08,42.50 L244.10,42.00 L244.10,41.50 L244.09,41.00 L244.08,40.50 L244.07,40.00 L244.05,39.50 L244.03,39.00 L244.02,38.50 L244.00,38.00 L243.98,37.50 L243.96,37.00 L243.94,36.50 L243.92,36.00 L243.90,35.50 L243.88,35.00 L243.86,34.50 L243.84,34.00 L243.82,33.50 L243.80,33.00 L243.78,32.50 L243.77,32.00 L243.75,31.50 L243.73,31.00 L243.72,30.50 L243.71,30.00 L243.70,29.50 L243.70,29.00 L243.70,28.50 L243.72,28.00 L243.73,27.50 L243.75,27.00 L243.78,26.50 L243.80,26.00 L243.83,25.50 L243.85,25.00 L243.87,24.50 L243.90,24.00 L243.92,23.50 L243.94,23.00 L243.97,22.50 L244.00,22.00 L244.02,21.50 L244.05,21.00 L244.07,20.50 L244.10,20.00 L244.12,19.50 L244.15,19.00 L244.17,18.50 L244.19,18.00 L244.21,17.50 L244.24,17.00 L244.26,16.50 L244.29,16.00 L244.32,15.50 L244.35,15.00 L244.39,14.50 L244.43,14.00 L244.48,13.50 L244.50,13.00 L244.50,12.50 L244.50,12.00 L244.50,11.50 L244.50,11.00 L244.50,10.50 L244.50,10.00Z" fill="#F7B1AB" stroke="#262222" stroke-width="1" stroke-linejoin="round"/>
<line x1="244.5" x2="244.5" y1="70" y2="177" stroke="#5a2c29" stroke-width="0.9"/>
<path d="M241.15,109.20 L247.85,109.20 L247.85,121.00 L246.90,124.00 L247.85,126.80 L247.85,137.50 L241.15,137.50 L241.15,126.80 L242.10,124.00 L241.15,121.00Z" fill="#EE7066" stroke="#5a2c29" stroke-width="0.9" stroke-linejoin="round"/>
<path d="M242.10,124.00 L246.90,124.00" stroke="#5a2c29" stroke-width="1.2"/>
<circle cx="244.5" cy="28.6" r="0.9" fill="#1a1a1a"/>
<circle cx="244.5" cy="42" r="0.8" fill="#1a1a1a"/>
<circle cx="244.5" cy="56" r="1.4" fill="#1a1a1a"/>
<path d="M310.40,48.00 L310.40,48.50 L310.40,49.00 L310.40,49.50 L310.40,50.00 L310.40,50.50 L310.40,51.00 L310.40,51.50 L310.40,52.00 L310.40,52.50 L310.40,53.00 L310.45,53.50 L310.51,54.00 L310.56,54.50 L310.62,55.00 L310.68,55.50 L310.75,56.00 L310.82,56.50 L310.90,57.00 L310.98,57.50 L311.07,58.00 L311.16,58.50 L311.26,59.00 L311.35,59.50 L311.45,60.00 L311.55,60.50 L311.65,61.00 L311.75,61.50 L311.85,62.00 L311.95,62.50 L312.06,63.00 L312.18,63.50 L312.30,64.00 L312.42,64.50 L312.55,65.00 L312.69,65.50 L312.84,66.00 L313.00,66.50 L313.16,67.00 L313.34,67.50 L313.52,68.00 L313.70,68.50 L313.88,69.00 L314.07,69.50 L314.25,70.00 L314.44,70.50 L314.64,71.00 L314.84,71.50 L315.05,72.00 L315.26,72.50 L315.47,73.00 L315.67,73.50 L315.87,74.00 L316.07,74.50 L316.25,75.00 L316.43,75.50 L316.61,76.00 L316.80,76.50 L316.98,77.00 L317.15,77.50 L317.32,78.00 L317.47,78.50 L317.62,79.00 L317.74,79.50 L317.85,80.00 L317.95,80.50 L318.04,81.00 L318.12,81.50 L318.20,82.00 L318.28,82.50 L318.34,83.00 L318.41,83.50 L318.46,84.00 L318.51,84.50 L318.55,85.00 L318.59,85.50 L318.62,86.00 L318.65,86.50 L318.68,87.00 L318.71,87.50 L318.74,88.00 L318.76,88.50 L318.78,89.00 L318.79,89.50 L318.80,90.00 L318.81,90.50 L318.82,91.00 L318.82,91.50 L318.83,92.00 L318.84,92.50 L318.84,93.00 L318.84,93.50 L318.85,94.00 L318.85,94.50 L318.85,95.00 L318.85,95.50 L318.85,96.00 L318.85,96.50 L318.85,97.00 L318.85,97.50 L318.85,98.00 L318.85,98.50 L318.85,99.00 L318.85,99.50 L318.85,100.00 L318.85,100.50 L318.86,101.00 L318.86,101.50 L318.87,102.00 L318.88,102.50 L318.89,103.00 L318.90,103.50 L318.92,104.00 L318.93,104.50 L318.95,105.00 L318.97,105.50 L319.00,106.00 L319.04,106.50 L319.08,107.00 L319.13,107.50 L319.19,108.00 L319.25,108.50 L319.31,109.00 L319.38,109.50 L319.45,110.00 L319.53,110.50 L319.62,111.00 L319.73,111.50 L319.85,112.00 L319.97,112.50 L320.10,113.00 L320.24,113.50 L320.38,114.00 L320.51,114.50 L320.65,115.00 L320.78,115.50 L320.92,116.00 L321.06,116.50 L321.20,117.00 L321.35,117.50 L321.50,118.00 L321.65,118.50 L321.81,119.00 L321.98,119.50 L322.15,120.00 L322.33,120.50 L322.53,121.00 L322.73,121.50 L322.94,122.00 L323.16,122.50 L323.38,123.00 L323.61,123.50 L323.83,124.00 L324.04,124.50 L324.25,125.00 L324.45,125.50 L324.65,126.00 L324.84,126.50 L325.03,127.00 L325.22,127.50 L325.41,128.00 L325.61,128.50 L325.81,129.00 L326.03,129.50 L326.25,130.00 L326.49,130.50 L326.75,131.00 L327.02,131.50 L327.30,132.00 L327.59,132.50 L327.88,133.00 L328.16,133.50 L328.44,134.00 L328.70,134.50 L328.95,135.00 L329.19,135.50 L329.43,136.00 L329.67,136.50 L329.91,137.00 L330.14,137.50 L330.36,138.00 L330.56,138.50 L330.75,139.00 L330.91,139.50 L331.05,140.00 L331.18,140.50 L331.30,141.00 L331.43,141.50 L331.55,142.00 L331.66,142.50 L331.75,143.00 L331.83,143.50 L331.90,144.00 L331.94,144.50 L331.95,145.00 L331.95,145.50 L331.94,146.00 L331.93,146.50 L331.91,147.00 L331.89,147.50 L331.87,148.00 L331.84,148.50 L331.81,149.00 L331.78,149.50 L331.75,150.00 L331.70,150.50 L331.63,151.00 L331.54,151.50 L331.42,152.00 L331.30,152.50 L331.16,153.00 L331.01,153.50 L330.86,154.00 L330.70,154.50 L330.55,155.00 L330.39,155.50 L330.21,156.00 L330.02,156.50 L329.82,157.00 L329.60,157.50 L329.38,158.00 L329.15,158.50 L328.92,159.00 L328.69,159.50 L328.45,160.00 L328.21,160.50 L327.96,161.00 L327.71,161.50 L327.44,162.00 L327.18,162.50 L326.90,163.00 L326.62,163.50 L326.34,164.00 L326.04,164.50 L325.75,165.00 L325.45,165.50 L325.14,166.00 L324.82,166.50 L324.49,167.00 L324.16,167.50 L323.82,168.00 L323.48,168.50 L323.14,169.00 L322.79,169.50 L322.45,170.00 L322.10,170.50 L321.74,171.00 L321.37,171.50 L321.00,172.00 L320.62,172.50 L320.25,173.00 L319.88,173.50 L319.53,174.00 L319.18,174.50 L318.85,175.00 L318.53,175.50 L318.22,176.00 L317.90,176.50 L317.60,177.00 L317.30,177.50 L317.01,178.00 L316.73,178.50 L316.46,179.00 L316.20,179.50 L315.95,180.00 L315.71,180.50 L315.47,181.00 L315.24,181.50 L315.01,182.00 L314.80,182.50 L314.59,183.00 L314.39,183.50 L314.20,184.00 L314.02,184.50 L313.85,185.00 L313.69,185.50 L313.54,186.00 L313.39,186.50 L313.25,187.00 L313.11,187.50 L312.98,188.00 L312.86,188.50 L312.75,189.00 L312.65,189.50 L312.55,190.00 L312.46,190.50 L312.38,191.00 L312.30,191.50 L312.23,192.00 L312.16,192.50 L312.09,193.00 L312.03,193.50 L311.97,194.00 L311.91,194.50 L311.85,195.00 L311.79,195.50 L311.74,196.00 L311.68,196.50 L311.63,197.00 L311.58,197.50 L311.53,198.00 L311.49,198.50 L311.44,199.00 L311.39,199.50 L311.35,200.00 L311.31,200.50 L311.26,201.00 L311.22,201.50 L311.17,202.00 L311.13,202.50 L311.09,203.00 L311.05,203.50 L311.02,204.00 L310.98,204.50 L310.95,205.00 L310.92,205.50 L310.89,206.00 L310.86,206.50 L310.84,207.00 L310.81,207.50 L310.79,208.00 L310.77,208.50 L310.74,209.00 L310.72,209.50 L310.70,210.00 L310.68,210.50 L310.66,211.00 L310.64,211.50 L310.62,212.00 L310.60,212.50 L310.58,213.00 L310.56,213.50 L310.54,214.00 L310.52,214.50 L310.50,215.00 L310.48,215.50 L310.46,216.00 L310.44,216.50 L310.42,217.00 L310.40,217.50 L310.40,218.00 L310.40,218.50 L310.40,219.00 L310.40,219.50 L310.40,220.00 L310.40,220.50 L310.40,221.00 L310.40,221.50 L310.40,222.00 L310.40,222.50 L310.40,223.00 L310.40,223.50 L310.40,224.00 L310.40,224.50 L310.40,225.00 L310.40,225.50 L310.40,226.00 L310.40,226.50 L310.40,227.00 L310.40,227.50 L310.40,228.00 L310.40,228.00 L310.40,227.50 L310.40,227.00 L310.40,226.50 L310.40,226.00 L310.40,225.50 L310.40,225.00 L310.40,224.50 L310.40,224.00 L310.40,223.50 L310.40,223.00 L310.40,222.50 L310.40,222.00 L310.40,221.50 L310.40,221.00 L310.40,220.50 L310.40,220.00 L310.40,219.50 L310.40,219.00 L310.40,218.50 L310.40,218.00 L310.40,217.50 L310.38,217.00 L310.36,216.50 L310.34,216.00 L310.32,215.50 L310.30,215.00 L310.28,214.50 L310.26,214.00 L310.24,213.50 L310.22,213.00 L310.20,212.50 L310.18,212.00 L310.16,211.50 L310.14,211.00 L310.12,210.50 L310.10,210.00 L310.08,209.50 L310.06,209.00 L310.03,208.50 L310.01,208.00 L309.99,207.50 L309.96,207.00 L309.94,206.50 L309.91,206.00 L309.88,205.50 L309.85,205.00 L309.82,204.50 L309.78,204.00 L309.75,203.50 L309.71,203.00 L309.67,202.50 L309.63,202.00 L309.58,201.50 L309.54,201.00 L309.49,200.50 L309.45,200.00 L309.41,199.50 L309.36,199.00 L309.31,198.50 L309.27,198.00 L309.22,197.50 L309.17,197.00 L309.12,196.50 L309.06,196.00 L309.01,195.50 L308.95,195.00 L308.89,194.50 L308.83,194.00 L308.77,193.50 L308.71,193.00 L308.64,192.50 L308.57,192.00 L308.50,191.50 L308.42,191.00 L308.34,190.50 L308.25,190.00 L308.15,189.50 L308.05,189.00 L307.94,188.50 L307.82,188.00 L307.69,187.50 L307.55,187.00 L307.41,186.50 L307.26,186.00 L307.11,185.50 L306.95,185.00 L306.78,184.50 L306.60,184.00 L306.41,183.50 L306.21,183.00 L306.00,182.50 L305.79,182.00 L305.56,181.50 L305.33,181.00 L305.09,180.50 L304.85,180.00 L304.60,179.50 L304.34,179.00 L304.07,178.50 L303.79,178.00 L303.50,177.50 L303.20,177.00 L302.90,176.50 L302.58,176.00 L302.27,175.50 L301.95,175.00 L301.62,174.50 L301.27,174.00 L300.92,173.50 L300.55,173.00 L300.18,172.50 L299.80,172.00 L299.43,171.50 L299.06,171.00 L298.70,170.50 L298.35,170.00 L298.01,169.50 L297.66,169.00 L297.32,168.50 L296.98,168.00 L296.64,167.50 L296.31,167.00 L295.98,166.50 L295.66,166.00 L295.35,165.50 L295.05,165.00 L294.76,164.50 L294.46,164.00 L294.18,163.50 L293.90,163.00 L293.62,162.50 L293.36,162.00 L293.09,161.50 L292.84,161.00 L292.59,160.50 L292.35,160.00 L292.11,159.50 L291.88,159.00 L291.65,158.50 L291.42,158.00 L291.20,157.50 L290.98,157.00 L290.78,156.50 L290.59,156.00 L290.41,155.50 L290.25,155.00 L290.10,154.50 L289.94,154.00 L289.79,153.50 L289.64,153.00 L289.50,152.50 L289.38,152.00 L289.26,151.50 L289.17,151.00 L289.10,150.50 L289.05,150.00 L289.02,149.50 L288.99,149.00 L288.96,148.50 L288.93,148.00 L288.91,147.50 L288.89,147.00 L288.87,146.50 L288.86,146.00 L288.85,145.50 L288.85,145.00 L288.86,144.50 L288.90,144.00 L288.97,143.50 L289.05,143.00 L289.14,142.50 L289.25,142.00 L289.37,141.50 L289.50,141.00 L289.62,140.50 L289.75,140.00 L289.89,139.50 L290.05,139.00 L290.24,138.50 L290.44,138.00 L290.66,137.50 L290.89,137.00 L291.13,136.50 L291.37,136.00 L291.61,135.50 L291.85,135.00 L292.10,134.50 L292.36,134.00 L292.64,133.50 L292.92,133.00 L293.21,132.50 L293.50,132.00 L293.78,131.50 L294.05,131.00 L294.31,130.50 L294.55,130.00 L294.77,129.50 L294.99,129.00 L295.19,128.50 L295.39,128.00 L295.58,127.50 L295.77,127.00 L295.96,126.50 L296.15,126.00 L296.35,125.50 L296.55,125.00 L296.76,124.50 L296.97,124.00 L297.19,123.50 L297.42,123.00 L297.64,122.50 L297.86,122.00 L298.07,121.50 L298.27,121.00 L298.47,120.50 L298.65,120.00 L298.82,119.50 L298.99,119.00 L299.15,118.50 L299.30,118.00 L299.45,117.50 L299.60,117.00 L299.74,116.50 L299.88,116.00 L300.02,115.50 L300.15,115.00 L300.29,114.50 L300.42,114.00 L300.56,113.50 L300.70,113.00 L300.83,112.50 L300.95,112.00 L301.07,111.50 L301.18,111.00 L301.27,110.50 L301.35,110.00 L301.42,109.50 L301.49,109.00 L301.55,108.50 L301.61,108.00 L301.67,107.50 L301.72,107.00 L301.76,106.50 L301.80,106.00 L301.83,105.50 L301.85,105.00 L301.87,104.50 L301.88,104.00 L301.90,103.50 L301.91,103.00 L301.92,102.50 L301.93,102.00 L301.94,101.50 L301.94,101.00 L301.95,100.50 L301.95,100.00 L301.95,99.50 L301.95,99.00 L301.95,98.50 L301.95,98.00 L301.95,97.50 L301.95,97.00 L301.95,96.50 L301.95,96.00 L301.95,95.50 L301.95,95.00 L301.95,94.50 L301.95,94.00 L301.96,93.50 L301.96,93.00 L301.96,92.50 L301.97,92.00 L301.98,91.50 L301.98,91.00 L301.99,90.50 L302.00,90.00 L302.01,89.50 L302.02,89.00 L302.04,88.50 L302.06,88.00 L302.09,87.50 L302.12,87.00 L302.15,86.50 L302.18,86.00 L302.21,85.50 L302.25,85.00 L302.29,84.50 L302.34,84.00 L302.39,83.50 L302.46,83.00 L302.52,82.50 L302.60,82.00 L302.68,81.50 L302.76,81.00 L302.85,80.50 L302.95,80.00 L303.06,79.50 L303.18,79.00 L303.33,78.50 L303.48,78.00 L303.65,77.50 L303.82,77.00 L304.00,76.50 L304.19,76.00 L304.37,75.50 L304.55,75.00 L304.73,74.50 L304.93,74.00 L305.13,73.50 L305.33,73.00 L305.54,72.50 L305.75,72.00 L305.96,71.50 L306.16,71.00 L306.36,70.50 L306.55,70.00 L306.73,69.50 L306.92,69.00 L307.10,68.50 L307.28,68.00 L307.46,67.50 L307.64,67.00 L307.80,66.50 L307.96,66.00 L308.11,65.50 L308.25,65.00 L308.38,64.50 L308.50,64.00 L308.62,63.50 L308.74,63.00 L308.85,62.50 L308.95,62.00 L309.05,61.50 L309.15,61.00 L309.25,60.50 L309.35,60.00 L309.45,59.50 L309.54,59.00 L309.64,58.50 L309.73,58.00 L309.82,57.50 L309.90,57.00 L309.98,56.50 L310.05,56.00 L310.12,55.50 L310.18,55.00 L310.24,54.50 L310.29,54.00 L310.35,53.50 L310.40,53.00 L310.40,52.50 L310.40,52.00 L310.40,51.50 L310.40,51.00 L310.40,50.50 L310.40,50.00 L310.40,49.50 L310.40,49.00 L310.40,48.50 L310.40,48.00Z" fill="#84CDD6" stroke="#262222" stroke-width="1" stroke-linejoin="round"/>
<line x1="310.4" x2="310.4" y1="83.5" y2="192" stroke="#14606a" stroke-width="0.9"/>
<path d="M307.05,110.20 L313.75,110.20 L313.75,130.00 L311.70,137.50 L313.75,145.00 L313.75,151.20 L307.05,151.20 L307.05,145.00 L309.10,137.50 L307.05,130.00Z" fill="#22B5C4" stroke="#14606a" stroke-width="0.9" stroke-linejoin="round"/>
<path d="M309.10,137.50 L311.70,137.50" stroke="#14606a" stroke-width="1.2"/>
<text x="23.8" y="85" font-family="&quot;Liberation Sans&quot;, sans-serif" font-size="9.45" fill="#3f3f3f" text-anchor="end">20</text>
<text x="23.8" y="177" font-family="&quot;Liberation Sans&quot;, sans-serif" font-size="9.45" fill="#3f3f3f" text-anchor="end">10</text>
<text x="201.8" y="16.4" font-family="&quot;Liberation Sans&quot;, sans-serif" font-size="9.45" fill="#3f3f3f" text-anchor="end">25</text>
<text x="201.8" y="68.4" font-family="&quot;Liberation Sans&quot;, sans-serif" font-size="9.45" fill="#3f3f3f" text-anchor="end">20</text>
<text x="201.8" y="120.4" font-family="&quot;Liberation Sans&quot;, sans-serif" font-size="9.45" fill="#3f3f3f" text-anchor="end">15</text>
<text x="201.8" y="172.4" font-family="&quot;Liberation Sans&quot;, sans-serif" font-size="9.45" fill="#3f3f3f" text-anchor="end">10</text>
<text x="201.8" y="224.4" font-family="&quot;Liberation Sans&quot;, sans-serif" font-size="9.45" fill="#3f3f3f" text-anchor="end">5</text>
<text x="66.4" y="247.7" font-family="&quot;Liberation Sans&quot;, sans-serif" font-size="9.45" fill="#3f3f3f" text-anchor="middle">Polyhedral</text>
<text x="132.5" y="247.7" font-family="&quot;Liberation Sans&quot;, sans-serif" font-size="9.45" fill="#3f3f3f" text-anchor="middle">Spherical</text>
<text x="244.5" y="247.7" font-family="&quot;Liberation Sans&quot;, sans-serif" font-size="9.45" fill="#3f3f3f" text-anchor="middle">Polyhedral</text>
<text x="310.4" y="247.7" font-family="&quot;Liberation Sans&quot;, sans-serif" font-size="9.45" fill="#3f3f3f" text-anchor="middle">Spherical</text>
<text transform="translate(9.4,119.4) rotate(-90)" font-family="&quot;Liberation Sans&quot;, sans-serif" font-size="12.4" fill="#000" text-anchor="middle">Length (µm)</text>
<text transform="translate(187.2,119.6) rotate(-90)" font-family="&quot;Liberation Sans&quot;, sans-serif" font-size="12.4" fill="#000" text-anchor="middle">Width (µm)</text>
</svg>
</body></html>
